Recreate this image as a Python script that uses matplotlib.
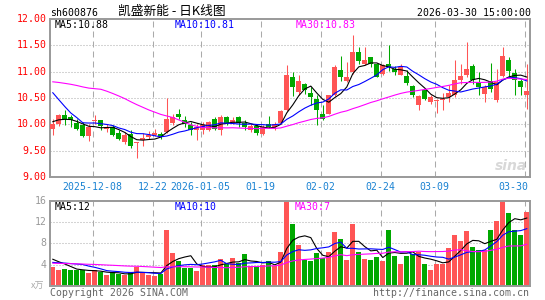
import numpy as np
import pandas as pd
import matplotlib
matplotlib.use("Agg")
import matplotlib.pyplot as plt

# ---------------- data ----------------
holidays = ["2026-01-01", "2026-01-02", "2026-02-16", "2026-02-17", "2026-02-18",
            "2026-02-19", "2026-02-20", "2026-02-23"]
dates = [d for d in pd.bdate_range("2025-11-27", "2026-03-30").strftime("%Y-%m-%d")
         if d not in holidays]

opens = [9.905, 10.01, 10.17, 10.13, 10.03, 9.98, 9.77, 10.055, 10.08, 9.905,
         9.95, 9.84, 9.66, 9.82, 9.64, 9.70, 9.76, 9.79, 9.81, 9.85,
         10.03, 10.19, 10.08, 9.98, 9.90, 9.89, 9.90, 10.10, 9.89, 10.13,
         10.03, 10.13, 10.02, 9.90, 9.97, 9.82, 10.00, 9.94, 10.03, 10.27,
         10.90, 10.61, 10.76, 10.60, 10.49, 10.19, 10.20, 10.55, 11.03, 10.83,
         11.00, 11.37, 11.14, 11.28, 11.15, 10.96, 11.15, 11.06, 10.93, 10.91,
         10.72, 10.36, 10.65, 10.42, 10.44, 10.46, 10.52, 10.55, 10.84, 10.93,
         11.10, 10.80, 10.57, 10.82, 10.46, 10.91, 11.23, 10.97, 10.82, 10.55]
highs = [10.11, 10.20, 10.27, 10.17, 10.11, 10.04, 10.00, 10.17, 10.09, 10.00,
         9.98, 9.89, 9.85, 9.89, 9.66, 9.84, 9.88, 9.92, 9.85, 10.50,
         10.19, 10.30, 10.16, 10.04, 10.00, 10.04, 10.07, 10.13, 10.17, 10.15,
         10.13, 10.15, 10.08, 10.01, 10.00, 9.99, 10.16, 10.04, 10.28, 11.12,
         11.00, 10.93, 10.78, 10.70, 10.56, 10.36, 10.56, 11.13, 11.29, 11.18,
         11.70, 11.47, 11.47, 11.28, 11.16, 11.15, 11.50, 11.10, 11.15, 11.03,
         10.74, 10.55, 10.68, 10.55, 10.49, 10.59, 10.74, 11.22, 11.15, 11.56,
         11.15, 10.99, 10.74, 11.16, 11.06, 11.47, 11.28, 11.06, 10.87, 11.15]
lows = [9.79, 9.97, 9.98, 9.95, 9.90, 9.76, 9.68, 10.00, 9.90, 9.86,
        9.77, 9.70, 9.63, 9.56, 9.37, 9.59, 9.73, 9.77, 9.73, 9.84,
        9.98, 10.10, 9.95, 9.79, 9.70, 9.81, 9.87, 9.89, 9.80, 9.98,
        10.00, 9.95, 9.90, 9.85, 9.79, 9.80, 9.93, 9.90, 10.01, 10.25,
        10.53, 10.55, 10.58, 10.36, 9.99, 10.08, 10.19, 10.53, 10.82, 10.80,
        10.96, 11.15, 11.12, 11.09, 10.89, 10.93, 11.01, 10.93, 10.93, 10.74,
        10.52, 10.28, 10.46, 10.39, 10.22, 10.27, 10.42, 10.52, 10.77, 10.89,
        10.77, 10.55, 10.42, 10.61, 10.42, 10.90, 10.90, 10.55, 10.55, 10.30]
closes = [10.00, 10.18, 10.095, 10.08, 9.92, 9.77, 9.95, 10.06, 9.97, 9.95,
          9.79, 9.73, 9.79, 9.58, 9.65, 9.75, 9.79, 9.83, 9.77, 10.10,
          10.13, 10.13, 10.01, 9.90, 9.94, 9.98, 10.04, 9.92, 10.13, 10.03,
          10.08, 10.03, 9.95, 9.97, 9.84, 9.95, 9.95, 10.01, 10.25, 10.93,
          10.71, 10.82, 10.65, 10.52, 10.27, 10.11, 10.55, 11.09, 10.90, 10.90,
          11.37, 11.20, 11.22, 11.14, 10.90, 11.12, 11.08, 10.99, 11.09, 10.78,
          10.55, 10.53, 10.49, 10.51, 10.45, 10.49, 10.59, 10.84, 10.91, 11.06,
          10.84, 10.71, 10.71, 10.68, 10.81, 11.29, 11.01, 10.85, 10.71, 10.63]
volumes = [3.6, 3.0, 3.2, 3.0, 2.9, 2.9, 2.4, 3.0, 2.5, 2.0,
           2.5, 2.2, 2.0, 2.5, 3.5, 2.4, 2.0, 1.85, 2.2, 10.6,
           6.2, 4.7, 3.4, 3.4, 2.8, 3.9, 4.0, 3.9, 5.1, 4.1,
           5.2, 4.25, 6.0, 3.8, 3.6, 3.9, 4.7, 3.7, 6.4, 16.5,
           11.6, 7.7, 4.9, 4.7, 6.2, 5.2, 6.4, 10.1, 8.9, 4.9,
           11.6, 6.4, 5.1, 4.9, 5.5, 4.7, 10.6, 5.65, 4.1, 5.65,
           6.0, 6.3, 4.1, 3.0, 4.1, 4.1, 7.2, 9.5, 8.4, 10.3,
           7.4, 6.8, 6.8, 10.6, 12.2, 16.3, 13.7, 10.5, 9.5, 13.9]
# closes / volumes before the window (estimated from the MA lines' start)
prior_closes = [10.55, 10.60, 10.62, 10.60, 10.58, 10.62, 10.40, 10.30, 11.05, 11.10,
                11.15, 11.30, 11.35, 11.30, 11.25, 11.30, 11.10, 11.05, 11.00, 11.00,
                11.50, 11.40, 11.30, 10.80, 10.75, 10.00, 10.05, 10.10, 10.10]
prior_volumes = [3.9, 4.0, 3.8, 3.9, 4.0, 3.9, 3.8, 4.0, 3.9, 3.9,
                 4.0, 3.8, 3.9, 4.0, 3.9, 3.8, 3.9, 4.0, 6.5, 6.5,
                 3.8, 3.7, 3.9, 3.8, 3.8, 5.4, 5.3, 5.4, 5.3]

tick_dates = ["2025-12-08", "2025-12-22", "2026-01-05", "2026-01-19",
              "2026-02-02", "2026-02-24", "2026-03-09", "2026-03-30"]
tick_labels = ["2025-12-08", "12-22", "2026-01-05", "01-19",
               "02-02", "02-24", "03-09", "03-30"]
price_ticks = [9.0, 9.5, 10.0, 10.5, 11.0, 11.5, 12.0]
vol_ticks = [4, 8, 12, 16]

code = "sh600876"
title = "凯盛新能 - 日K线图"
stamp = "2026-03-30 15:00:00"
price_ma_text = ["MA5:10.88", "MA10:10.81", "MA30:10.83"]
vol_ma_text = ["MA5:12", "MA10:10", "MA30:7"]

# ---------------- style ----------------
RED = "#ff5555"
GREEN = "#00a800"
MA_COLORS = ["#000000", "#0000ff", "#ff00ff"]
GRID = "#aaaaaa"
FRAME = "#999999"
MONO = "DejaVu Sans Mono"
FS = 7.1

W, H = 545, 300
fig = plt.figure(figsize=(W / 100, H / 100), dpi=100)
fig.patch.set_facecolor("white")

def fx(px):
    return px / W

def fy(py):
    return 1 - py / H

axp = fig.add_axes([fx(50), fy(177), fx(529.5 - 50), (177 - 19) / H])
axv = fig.add_axes([fx(50), fy(285.7), fx(529.5 - 50), (285.7 - 201) / H])

n = len(closes)
x = np.arange(n)
o = np.array(opens); c = np.array(closes); hi = np.array(highs); lo = np.array(lows)
v = np.array(volumes)
up = c >= o
cols = np.where(up, RED, GREEN)

allc = pd.Series(prior_closes + closes)
allv = pd.Series(prior_volumes + volumes)
np_ = len(prior_closes)
ma_p = [allc.rolling(k).mean().values[np_:] for k in (5, 10, 30)]
ma_v = [allv.rolling(k).mean().values[np_:] for k in (5, 10, 30)]

xmin, xmax = -0.467, 79.45
tick_idx = [dates.index(d) for d in tick_dates]

for ax, ylim, hticks in ((axp, (9, 12), price_ticks[1:-1]), (axv, (0, 16), vol_ticks[:-1])):
    ax.set_xlim(xmin, xmax)
    ax.set_ylim(*ylim)
    ax.set_xticks([]); ax.set_yticks([])
    for s in ax.spines.values():
        s.set_color(FRAME); s.set_linewidth(1.4)
    for t in hticks:
        ax.axhline(t, color=GRID, lw=0.75, ls=(0, (0.96, 1.92)), zorder=0)
    for ti in tick_idx:
        ax.axvline(ti - 0.35, color=GRID, lw=0.75, ls=(0, (5.76, 3.84)), zorder=0)

# candles
axp.vlines(x, lo, hi, colors=cols, lw=0.75, zorder=2)
body = np.maximum(np.abs(c - o), 0.02)
axp.bar(x, body, bottom=np.minimum(o, c), width=0.8, color=cols, lw=0, zorder=3)
for m, col in zip(ma_p, MA_COLORS):
    axp.plot(x, m, color=col, lw=0.8, zorder=4)

# volume
axv.bar(x, v, width=0.8, color=cols, lw=0, zorder=2)
for m, col in zip(ma_v, MA_COLORS):
    axv.plot(x, m, color=col, lw=0.8, zorder=4)

# price axis labels
for t in price_ticks:
    fig.text(fx(46.5), fy(19 + (12 - t) / 3 * 158), f"{t:.2f}", color="red",
             family=MONO, fontsize=FS, ha="right", va="center")
for t in vol_ticks:
    fig.text(fx(46.5), fy(285.7 - t / 16 * 84.7), f"{t}", color="#999999",
             family=MONO, fontsize=FS, ha="right", va="center")
fig.text(fx(44), fy(286), "x万", color="#aaaaaa", family=["Noto Sans CJK SC", "DejaVu Sans"],
         fontsize=6.5, ha="right", va="center")

# date labels
for ti, lab in zip(tick_idx, tick_labels):
    px = 52.8 + 6 * (ti - 0.35)
    halfw = len(lab) * 5.95 / 2
    ha = "center"
    if px + halfw > 528:
        px, ha = 528, "right"
    fig.text(fx(px), fy(186.5), lab, color="#1a82d2", family=MONO, fontsize=FS,
             ha=ha, va="center")

# header
fig.text(fx(50), fy(12.5), code, color="black", family=MONO, fontsize=FS, ha="left", va="center")
fig.text(fx(118), fy(11), title, color="black", family=["Noto Sans CJK SC", "DejaVu Sans"],
         fontsize=9.2, ha="left", va="center")
fig.text(fx(531), fy(12.5), stamp, color="black", family=MONO, fontsize=FS, ha="right", va="center")

for txt, col, px in zip(price_ma_text, MA_COLORS, (55, 175, 296)):
    fig.text(fx(px), fy(25), txt, color=col, family=MONO, fontsize=FS, ha="left", va="center")
for txt, col, px in zip(vol_ma_text, MA_COLORS, (54.5, 175, 295)):
    fig.text(fx(px), fy(206.5), txt, color=col, family=MONO, fontsize=FS, ha="left", va="center")

# watermark
fig.text(fx(527), fy(166), "sina", color="#d8d8d8", family="DejaVu Sans", fontsize=10,
         fontweight="bold", style="italic", ha="right", va="center", zorder=0)

# footer
fig.text(fx(50), fy(292.5), "Copyright 2026 SINA.COM", color="#666666", family=MONO,
         fontsize=FS, ha="left", va="center")
fig.text(fx(529.5), fy(292.5), "http://finance.sina.com.cn", color="#666666", family=MONO,
         fontsize=FS, ha="right", va="center")

fig.savefig("out.png", dpi=100)
